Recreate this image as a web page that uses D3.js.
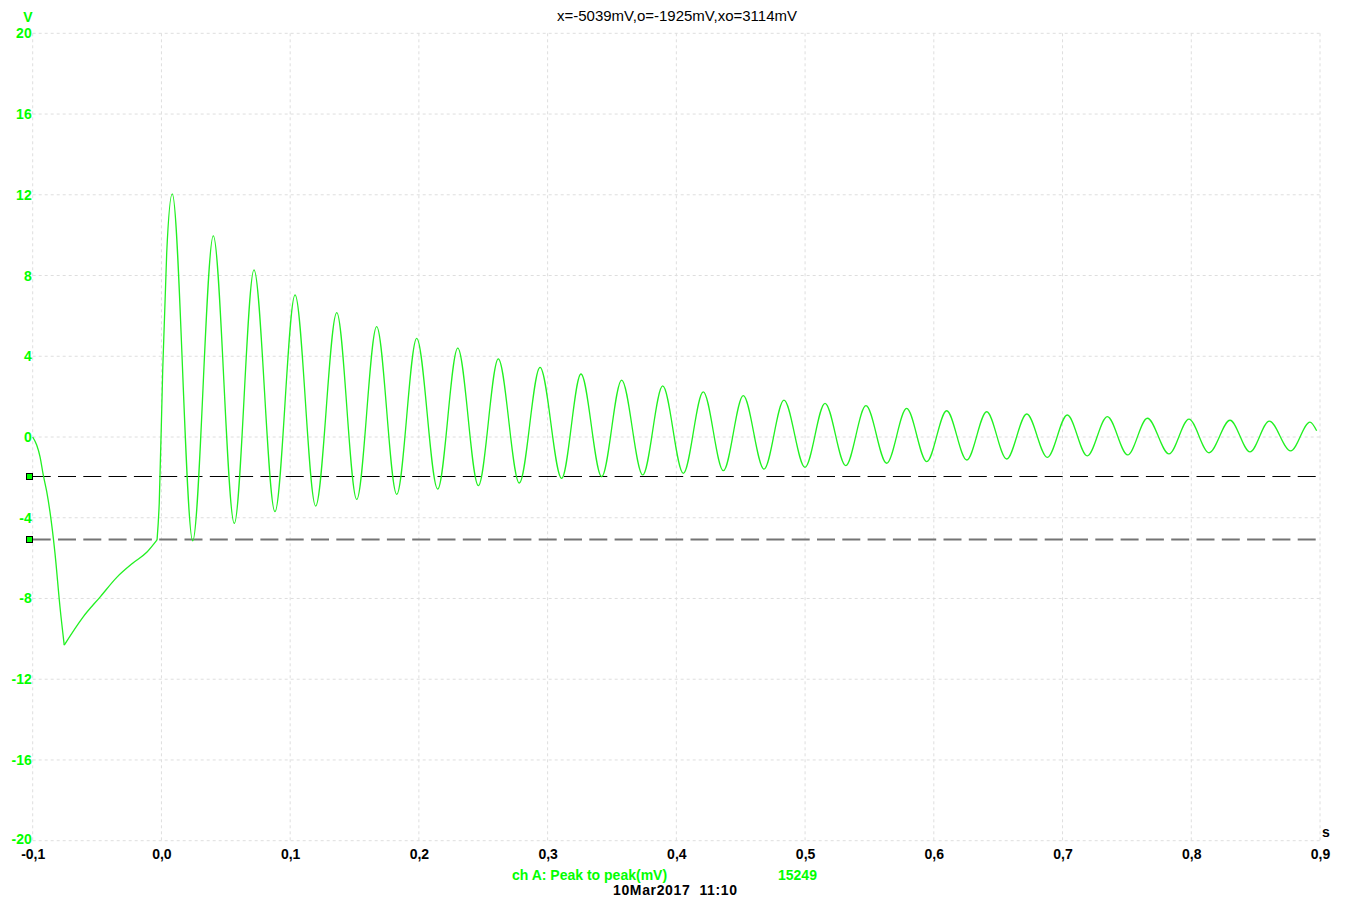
<!DOCTYPE html>
<html>
<head>
<meta charset="utf-8">
<script src="https://cdn.jsdelivr.net/npm/d3@7/dist/d3.min.js"></script>
<style>
  html, body { margin: 0; padding: 0; background: #ffffff; }
  svg { display: block; }
  text { font-family: "Liberation Sans", Arial, sans-serif; }
</style>
</head>
<body>
<svg id="chart" width="1345" height="901"></svg>
<script>
// ---- data ----
const xTicks = [-0.1, 0.0, 0.1, 0.2, 0.3, 0.4, 0.5, 0.6, 0.7, 0.8, 0.9];
const yTicks = [-20, -16, -12, -8, -4, 0, 4, 8, 12, 16, 20];

// onset descent: from 0 V down to the minimum (s, V)
const fallT = [-0.1000, -0.0969, -0.0943, -0.0918, -0.0891, -0.0866, -0.0827, -0.0788, -0.0755];
const fallV = [0.00, -0.40, -0.98, -1.88, -2.71, -3.70, -5.75, -8.42, -10.31];

// recovery: from the minimum back up to the trigger point (s, V)
const recoverT = [-0.0755, -0.0609, -0.0477, -0.0345, -0.0221, -0.0112, -0.0034];
const recoverV = [-10.31, -8.92, -7.93, -6.94, -6.24, -5.70, -5.10];

// ringing: fast rise then alternating peaks / troughs (s, V)
const ringT = [-0.0034, -0.0017, 0.0010, 0.0041,
  0.0084, 0.0243, 0.0403, 0.0566, 0.0719, 0.0882, 0.1038, 0.1198, 0.1362, 0.1517,
  0.1672, 0.1828, 0.1983, 0.2146, 0.2302, 0.2462, 0.2617, 0.2780, 0.2941, 0.3109,
  0.3259, 0.3420, 0.3575, 0.3739, 0.3894, 0.4054, 0.4209, 0.4365, 0.4520, 0.4681,
  0.4836, 0.4999, 0.5155, 0.5316, 0.5473, 0.5634, 0.5789, 0.5945, 0.6100, 0.6256,
  0.6411, 0.6566, 0.6722, 0.6882, 0.7037, 0.7192, 0.7348, 0.7506, 0.7659, 0.7827,
  0.7982, 0.8138, 0.8301, 0.8456, 0.8606, 0.8772, 0.8922, 0.8974];
const ringV = [-5.10, -3.27, 3.32, 9.12,
  12.04, -5.14, 9.96, -4.28, 8.28, -3.70, 7.04, -3.42, 6.16, -3.09,
  5.47, -2.84, 4.89, -2.58, 4.40, -2.41, 3.87, -2.28, 3.45, -2.05,
  3.12, -1.97, 2.82, -1.88, 2.53, -1.80, 2.24, -1.67, 2.05, -1.59,
  1.83, -1.50, 1.67, -1.42, 1.55, -1.30, 1.42, -1.22, 1.30, -1.14,
  1.25, -1.09, 1.14, -1.01, 1.09, -0.94, 1.01, -0.89, 0.93, -0.84,
  0.89, -0.78, 0.83, -0.74, 0.79, -0.69, 0.74, 0.31];

// ruler cursors (V)
const cursorLevels = [-1.925, -5.039];
const cursorColors = ["#000000", "#747474"];
const cursorWidths = [1.2, 2];

const titleText = "x=-5039mV,o=-1925mV,xo=3114mV";
const measureLabel = "ch A: Peak to peak(mV)";
const measureValue = "15249";
const dateText = "10Mar2017  11:10";
const yUnit = "V";
const xUnit = "s";

// ---- drawing ----
const svg = d3.select("#chart");
const x = d3.scaleLinear().domain([-0.1, 0.9]).range([32.7, 1320]);
const y = d3.scaleLinear().domain([-20, 20]).range([840.7, 33.3]);
const green = "#00ff00";
const fmtX = v => d3.format(".1f")(v).replace(".", ",").replace("−", "-");

// grid
const grid = svg.append("g");
grid.selectAll("line.v").data(xTicks).join("line")
  .attr("x1", d => x(d)).attr("x2", d => x(d))
  .attr("y1", y(20)).attr("y2", y(-20))
  .attr("stroke", "#dedede").attr("stroke-width", 1).attr("stroke-dasharray", "3,3");
grid.selectAll("line.h").data(yTicks).join("line")
  .attr("x1", x(-0.1)).attr("x2", x(0.9))
  .attr("y1", d => y(d)).attr("y2", d => y(d))
  .attr("stroke", "#dedede").attr("stroke-width", 1).attr("stroke-dasharray", "3,3");

// axes (labels only) via d3 axis generators
const yAxis = d3.axisLeft(y).tickValues(yTicks).tickSize(0).tickPadding(1).tickFormat(d3.format("d"));
const gy = svg.append("g").attr("transform", `translate(${x(-0.1)},0)`).call(yAxis);
gy.select(".domain").remove();
gy.selectAll("text").attr("fill", green).attr("font-size", 14).attr("font-weight", "bold")
  .attr("font-family", "'Liberation Sans', Arial, sans-serif").text(d => String(d).replace("−", "-"));
// lift the bottom-most label a touch so it clears the x labels
gy.selectAll(".tick").filter(d => d === -20).select("text").attr("dy", "0.2em");

const xAxis = d3.axisBottom(x).tickValues(xTicks).tickSize(0).tickPadding(8).tickFormat(fmtX);
const gx = svg.append("g").attr("transform", `translate(0,${y(-20)})`).call(xAxis);
gx.select(".domain").remove();
gx.selectAll("text").attr("fill", "#000").attr("font-size", 14).attr("font-weight", "bold")
  .attr("font-family", "'Liberation Sans', Arial, sans-serif");

// units
svg.append("text").attr("x", 28).attr("y", 22).attr("text-anchor", "middle")
  .attr("fill", green).attr("font-size", 14).attr("font-weight", "bold").text(yUnit);
svg.append("text").attr("x", 1326).attr("y", 837).attr("text-anchor", "middle")
  .attr("fill", "#000").attr("font-size", 14).attr("font-weight", "bold").text(xUnit);

// title
svg.append("text").attr("x", 677).attr("y", 20.5).attr("text-anchor", "middle")
  .attr("fill", "#000").attr("font-size", 15).text(titleText);

// cursor lines
cursorLevels.forEach((lv, i) => {
  const yy = Math.round(y(lv)) + 0.5;
  svg.append("line")
    .attr("x1", x(-0.1)).attr("x2", x(0.9))
    .attr("y1", yy).attr("y2", yy)
    .attr("stroke", cursorColors[i]).attr("stroke-width", cursorWidths[i])
    .attr("stroke-dasharray", "18,7.3");
  svg.append("line")
    .attr("x1", 29).attr("x2", x(-0.1))
    .attr("y1", yy).attr("y2", yy)
    .attr("stroke", cursorColors[i]).attr("stroke-width", cursorWidths[i]);
  svg.append("rect")
    .attr("x", 26.5).attr("y", yy - 3).attr("width", 6).attr("height", 6)
    .attr("fill", green).attr("stroke", "#000").attr("stroke-width", 1);
});

// waveform
const toPts = (T, V) => T.map((t, i) => [t, V[i]]);
const lineMono = d3.line().x(d => x(d[0])).y(d => y(d[1])).curve(d3.curveMonotoneX);
[toPts(fallT, fallV), toPts(recoverT, recoverV), toPts(ringT, ringV)].forEach(pts => {
  svg.append("path").attr("d", lineMono(pts))
    .attr("fill", "none").attr("stroke", "#22f022").attr("stroke-width", 1.3)
    .attr("stroke-linejoin", "round");
});

// bottom texts
svg.append("text").attr("x", 512).attr("y", 880).attr("fill", green)
  .attr("font-size", 14).attr("font-weight", "bold").text(measureLabel);
svg.append("text").attr("x", 778).attr("y", 880).attr("fill", green)
  .attr("font-size", 14).attr("font-weight", "bold").text(measureValue);
svg.append("text").attr("x", 613).attr("y", 895).attr("fill", "#000")
  .attr("font-size", 14).attr("font-weight", "bold").attr("xml:space", "preserve")
  .attr("textLength", 124).attr("lengthAdjust", "spacing")
  .style("white-space", "pre").text(dateText);
</script>
</body>
</html>
